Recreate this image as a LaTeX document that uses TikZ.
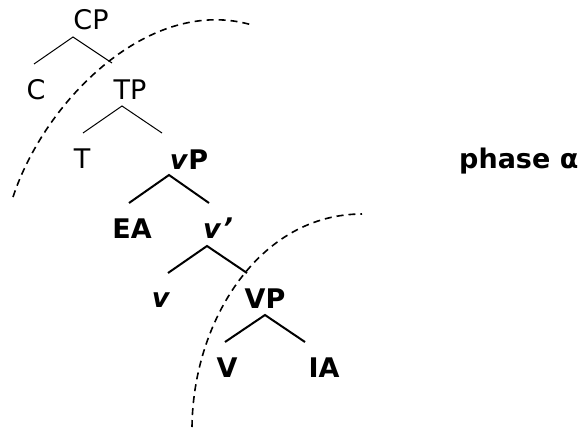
\documentclass[tikz,border=0pt]{standalone}
\usepackage{fontspec}
\setmainfont{DejaVu Sans}
\begin{document}
\begin{tikzpicture}[x=1pt,y=-1pt,
  lbl/.style={inner sep=0pt,anchor=base,font=\fontsize{27}{30}\selectfont},
  blbl/.style={lbl,font=\fontsize{27}{30}\selectfont\bfseries},
  thin/.style={line width=1pt},
  thick/.style={line width=2pt},
  phasearc/.style={line width=1.6pt,dash pattern=on 7pt off 5pt}]
\useasboundingbox (0,0) rectangle (580,428);
% nodes
\node[lbl] (CP) at (91,30) {CP};
\node[lbl] (C) at (36,99) {C};
\node[lbl] (TP) at (130,99) {TP};
\node[lbl] (T) at (82,168) {T};
\node[blbl] (vP) at (189,169) {\textit{v}P};
\node[blbl] (EA) at (132,238) {EA};
\node[blbl] (vbar) at (218,238) {\textit{v}\kern1pt\raisebox{1pt}{\textit{’}}};
\node[blbl] (v) at (161,307) {\textit{v}};
\node[blbl] (VP) at (265,308) {VP};
\node[blbl] (V) at (227,377) {V};
\node[blbl] (IA) at (324,377) {IA};
\node[blbl,anchor=base west] (phase) at (459,168) {phase α};
% branch points
\coordinate (cpA) at (73,37);  \coordinate (cpL) at (34,64);  \coordinate (cpR) at (112,63);
\coordinate (tpA) at (122,106); \coordinate (tpL) at (83,133); \coordinate (tpR) at (162,133);
\coordinate (vpA) at (169,175); \coordinate (vpL) at (129,203); \coordinate (vpR) at (209,203);
\coordinate (vbA) at (207,246); \coordinate (vbL) at (168,273); \coordinate (vbR) at (247,273);
\coordinate (VPA) at (265,315); \coordinate (VPL) at (225,342); \coordinate (VPR) at (305,342);
\draw[thin] (cpL) -- (cpA) -- (cpR);
\draw[thin] (tpL) -- (tpA) -- (tpR);
\draw[thick] (vpL) -- (vpA) -- (vpR);
\draw[thick] (vbL) -- (vbA) -- (vbR);
\draw[thick] (VPL) -- (VPA) -- (VPR);
% phase boundaries
\coordinate (a1s) at (13,197); \coordinate (a1e) at (252,25);
\coordinate (a2s) at (192,427); \coordinate (a2e) at (362,214);
\draw[phasearc] (a1s) .. controls (45,100) and (150,-5) .. (a1e);
\draw[phasearc] (a2s) .. controls (193,320) and (260,214) .. (a2e);
\end{tikzpicture}
\end{document}
